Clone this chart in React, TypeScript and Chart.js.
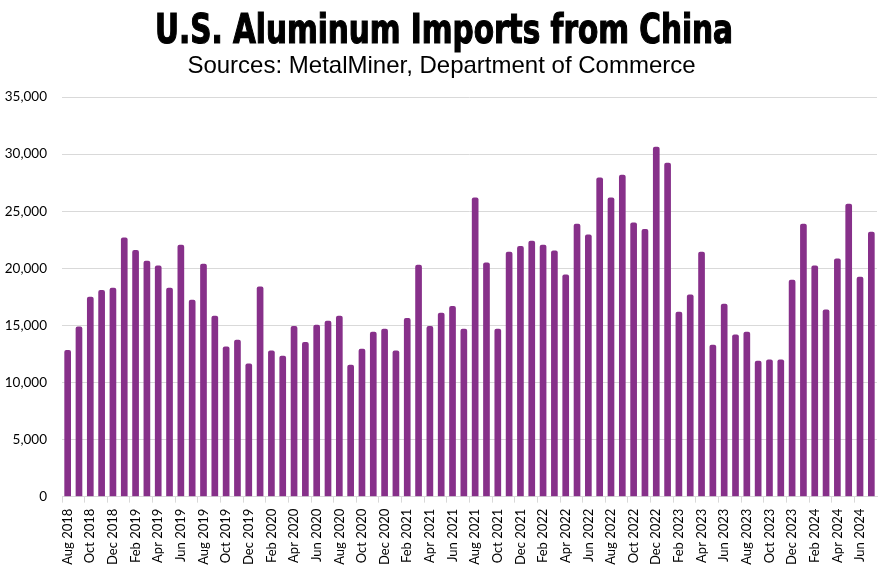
import React, { useEffect, useRef } from "react";
import { Chart, registerables } from "chart.js";

Chart.register(...registerables);

const months: string[] = [
  "Aug 2018", "Sep 2018", "Oct 2018", "Nov 2018", "Dec 2018",
  "Jan 2019", "Feb 2019", "Mar 2019", "Apr 2019", "May 2019", "Jun 2019", "Jul 2019", "Aug 2019", "Sep 2019", "Oct 2019", "Nov 2019", "Dec 2019",
  "Jan 2020", "Feb 2020", "Mar 2020", "Apr 2020", "May 2020", "Jun 2020", "Jul 2020", "Aug 2020", "Sep 2020", "Oct 2020", "Nov 2020", "Dec 2020",
  "Jan 2021", "Feb 2021", "Mar 2021", "Apr 2021", "May 2021", "Jun 2021", "Jul 2021", "Aug 2021", "Sep 2021", "Oct 2021", "Nov 2021", "Dec 2021",
  "Jan 2022", "Feb 2022", "Mar 2022", "Apr 2022", "May 2022", "Jun 2022", "Jul 2022", "Aug 2022", "Sep 2022", "Oct 2022", "Nov 2022", "Dec 2022",
  "Jan 2023", "Feb 2023", "Mar 2023", "Apr 2023", "May 2023", "Jun 2023", "Jul 2023", "Aug 2023", "Sep 2023", "Oct 2023", "Nov 2023", "Dec 2023",
  "Jan 2024", "Feb 2024", "Mar 2024", "Apr 2024", "May 2024", "Jun 2024", "Jul 2024",
];

const imports: number[] = [
  12850, 14900, 17500, 18100, 18300,
  22700, 21600, 20650, 20250, 18300, 22050, 17250, 20400, 15850, 13150, 13750, 11650,
  18400, 12800, 12350, 14950, 13550, 15050, 15400, 15850, 11550, 12950, 14450, 14700,
  12800, 15650, 20300, 14950, 16100, 16700, 14700, 26200, 20500, 14700, 21450, 21950,
  22400, 22050, 21550, 19450, 23900, 22950, 27950, 26200, 28200, 24000, 23450, 30650,
  29250, 16200, 17700, 21450, 13300, 16900, 14200, 14450, 11900, 12000, 12000, 19000,
  23900, 20250, 16400, 20850, 25650, 19250, 23200,
];

const yTicks: number[] = [0, 5000, 10000, 15000, 20000, 25000, 30000, 35000];

const titleText = "U.S. Aluminum Imports from China";
const subtitleText = "Sources: MetalMiner, Department of Commerce";

const headerPlugin = {
  id: "header",
  afterDraw(chart: any) {
    const ctx = chart.ctx as CanvasRenderingContext2D;
    ctx.save();
    ctx.fillStyle = "#000";
    ctx.textAlign = "center";
    ctx.textBaseline = "alphabetic";
    ctx.font = "bold 41px 'DejaVu Sans Condensed', 'Liberation Sans Narrow', sans-serif";
    const w = ctx.measureText(titleText).width;
    const sx = 578 / w;
    ctx.translate(444, 43);
    ctx.scale(sx, 1);
    ctx.lineWidth = 1.2;
    ctx.strokeStyle = "#000";
    ctx.fillText(titleText, 0, 0);
    ctx.strokeText(titleText, 0, 0);
    ctx.restore();

    ctx.save();
    ctx.fillStyle = "#000";
    ctx.textAlign = "center";
    ctx.textBaseline = "alphabetic";
    ctx.font = "24px 'Liberation Sans', Arial, sans-serif";
    ctx.fillText(subtitleText, 441.5, 72.5);
    ctx.restore();
  },
};

export default function App() {
  const canvasRef = useRef<HTMLCanvasElement | null>(null);

  useEffect(() => {
    document.body.style.margin = "0";
    const canvas = canvasRef.current;
    if (!canvas) return;
    const chart = new Chart(canvas, {
      type: "bar",
      data: {
        labels: months,
        datasets: [
          {
            label: "Imports",
            data: imports,
            backgroundColor: "#87308A",
            borderRadius: { topLeft: 2, topRight: 2, bottomLeft: 0, bottomRight: 0 },
            borderSkipped: "bottom",
            categoryPercentage: 1,
            barPercentage: 0.59,
          },
        ],
      },
      options: {
        animation: false,
        responsive: false,
        maintainAspectRatio: false,
        layout: { padding: { left: 5, right: 5, top: 97, bottom: 3 } },
        plugins: {
          legend: { display: false },
          tooltip: { enabled: false },
          title: { display: false },
        },
        scales: {
          x: {
            afterFit: (scale: any) => {
              scale.paddingLeft = 0;
              scale.paddingRight = 0;
            },
            grid: {
              display: true,
              drawOnChartArea: false,
              drawTicks: true,
              tickLength: 6,
              color: (c: any) => (c.index % 2 === 0 ? "#D9D9D9" : "rgba(0,0,0,0)"),
              offset: true,
            },
            border: { display: true, color: "#D9D9D9" },
            ticks: {
              autoSkip: false,
              maxRotation: 90,
              minRotation: 90,
              padding: 6,
              color: "#000",
              font: { family: "Lato, 'Open Sans', sans-serif", size: 13 },
              callback: (_v: any, i: number) => (i % 2 === 0 ? months[i] : ""),
            },
          },
          y: {
            min: 0,
            max: 35000,
            afterBuildTicks: (axis: any) => {
              axis.ticks = yTicks.map((v) => ({ value: v }));
            },
            afterFit: (scale: any) => {
              scale.width = 57;
            },
            grid: { color: "#D9D9D9", drawTicks: false },
            border: { display: false },
            ticks: {
              padding: 15,
              color: "#000",
              font: { family: "Lato, 'Open Sans', sans-serif", size: 13.5 },
              callback: (v: any) => Number(v).toLocaleString("en-US"),
            },
          },
        },
      },
      plugins: [headerPlugin],
    });
    return () => chart.destroy();
  }, []);

  return (
    <div style={{ width: 882, height: 574, background: "#fff" }}>
      <canvas ref={canvasRef} width={882} height={574} style={{ display: "block" }} />
    </div>
  );
}
